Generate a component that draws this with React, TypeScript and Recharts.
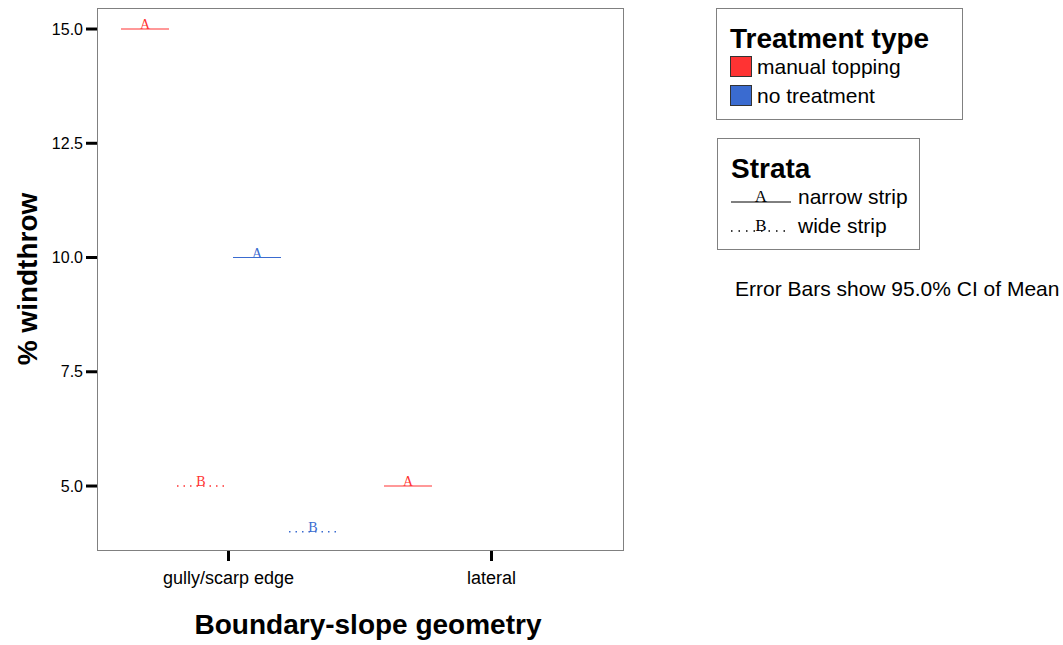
import { BarChart, Bar, XAxis, YAxis } from "recharts";

// Boundary-slope geometry categories
const GEOMETRY = ["gully/scarp edge", "lateral"];

// mean % windthrow per treatment / strata
const MANUAL_NARROW = [15.0, 5.0];
const MANUAL_WIDE = [5.0, null];
const NONE_NARROW = [10.0, null];
const NONE_WIDE = [4.0, null];

const Y_TICKS = [5, 7.5, 10, 12.5, 15];

const RED = "#ff3333";
const BLUE = "#3a6bd0";
const FONT = "'Liberation Sans', Arial, sans-serif";
const SERIF = "'Liberation Serif', 'Times New Roman', serif";

const data = GEOMETRY.map((geom, i) => ({
  geom,
  manualNarrow: MANUAL_NARROW[i],
  manualWide: MANUAL_WIDE[i],
  noneNarrow: NONE_NARROW[i],
  noneWide: NONE_WIDE[i],
}));

// draws the mean as a short horizontal line with a strata letter on top
const meanMark =
  (key: string, color: string, letter: string, dotted: boolean) => (props: any) => {
    const { x, y, width, payload } = props;
    if (!payload || payload[key] == null) return <g />;
    return (
      <g>
        <line
          x1={x}
          x2={x + width}
          y1={y}
          y2={y}
          stroke={color}
          strokeWidth={dotted ? 1.5 : 1.2}
          strokeDasharray={dotted ? "1.5 5" : undefined}
        />
        <text x={x + width / 2} y={y} textAnchor="middle" fontFamily={SERIF} fontSize={14} fill={color}>
          {letter}
        </text>
      </g>
    );
  };

const titleStyle = { fontFamily: FONT, fontWeight: 700, fontSize: 28, lineHeight: "27px" } as const;
const itemStyle = { fontFamily: FONT, fontSize: 21, display: "flex", alignItems: "center", height: 29 } as const;

export default function App() {
  return (
    <div style={{ position: "absolute", left: 0, top: 0, width: 1063, height: 645, background: "#fff" }}>
      <BarChart
        width={1063}
        height={645}
        data={data}
        margin={{ top: 8, right: 440, bottom: 65, left: 37 }}
        barSize={48}
        barGap={8}
      >
        <XAxis
          dataKey="geom"
          height={30}
          axisLine={false}
          tickSize={11}
          tickMargin={10}
          tickLine={{ stroke: "#000", strokeWidth: 3 }}
          tick={{ fill: "#000", fontSize: 18, fontFamily: FONT }}
        />
        <YAxis
          width={60}
          domain={[3.6, 15.46]}
          allowDataOverflow
          ticks={Y_TICKS}
          tickFormatter={(v: number) => v.toFixed(1)}
          axisLine={false}
          tickSize={11}
          tickMargin={3}
          tickLine={{ stroke: "#000", strokeWidth: 3 }}
          tick={{ fill: "#000", fontSize: 16, fontFamily: FONT }}
        />
        <Bar dataKey="manualNarrow" isAnimationActive={false} shape={meanMark("manualNarrow", RED, "A", false)} />
        <Bar dataKey="manualWide" isAnimationActive={false} shape={meanMark("manualWide", RED, "B", true)} />
        <Bar dataKey="noneNarrow" isAnimationActive={false} shape={meanMark("noneNarrow", BLUE, "A", false)} />
        <Bar dataKey="noneWide" isAnimationActive={false} shape={meanMark("noneWide", BLUE, "B", true)} />
      </BarChart>

      {/* plot frame */}
      <div
        style={{
          position: "absolute",
          left: 97,
          top: 8,
          width: 527,
          height: 543,
          boxSizing: "border-box",
          border: "1px solid #808080",
          pointerEvents: "none",
        }}
      />

      {/* axis titles */}
      <div
        style={{
          position: "absolute",
          left: 28,
          top: 279,
          transform: "translate(-50%, -50%) rotate(-90deg)",
          whiteSpace: "nowrap",
          fontFamily: FONT,
          fontWeight: 700,
          fontSize: 28,
        }}
      >
        % windthrow
      </div>
      <div
        style={{
          position: "absolute",
          left: 368,
          top: 625,
          transform: "translate(-50%, -50%)",
          whiteSpace: "nowrap",
          fontFamily: FONT,
          fontWeight: 700,
          fontSize: 28,
        }}
      >
        Boundary-slope geometry
      </div>

      {/* Treatment type legend */}
      <div
        style={{
          position: "absolute",
          left: 716,
          top: 8,
          width: 247,
          height: 112,
          boxSizing: "border-box",
          border: "1px solid #808080",
          padding: "16px 0 0 13px",
        }}
      >
        <div style={titleStyle}>Treatment type</div>
        {[
          ["manual topping", RED],
          ["no treatment", BLUE],
        ].map(([label, color]) => (
          <div key={label} style={itemStyle}>
            <span
              style={{
                width: 22,
                height: 21,
                boxSizing: "border-box",
                background: color,
                border: "1px solid #333",
                marginRight: 5,
              }}
            />
            {label}
          </div>
        ))}
      </div>

      {/* Strata legend */}
      <div
        style={{
          position: "absolute",
          left: 717,
          top: 138,
          width: 203,
          height: 112,
          boxSizing: "border-box",
          border: "1px solid #808080",
          padding: "16px 0 0 13px",
        }}
      >
        <div style={titleStyle}>Strata</div>
        {[
          ["narrow strip", "A", false],
          ["wide strip", "B", true],
        ].map(([label, letter, dotted]) => (
          <div key={label as string} style={itemStyle}>
            <svg width={60} height={29} style={{ marginRight: 7 }}>
              <line
                x1={0}
                x2={60}
                y1={20}
                y2={20}
                stroke="#000"
                strokeWidth={dotted ? 1.3 : 1}
                strokeDasharray={dotted ? "1.5 6" : undefined}
              />
              <text x={30} y={20} textAnchor="middle" fontFamily={SERIF} fontSize={17} fill="#000">
                {letter as string}
              </text>
            </svg>
            {label as string}
          </div>
        ))}
      </div>

      <div
        style={{
          position: "absolute",
          left: 735,
          top: 277,
          whiteSpace: "nowrap",
          fontFamily: FONT,
          fontSize: 21,
        }}
      >
        Error Bars show 95.0% CI of Mean
      </div>
    </div>
  );
}
